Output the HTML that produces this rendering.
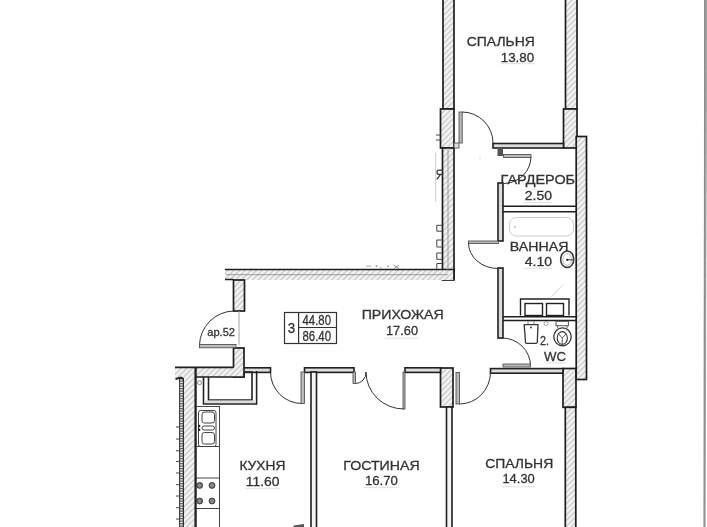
<!DOCTYPE html>
<html><head><meta charset="utf-8">
<style>
html,body{margin:0;padding:0;background:#fff;width:707px;height:527px;overflow:hidden}
svg{display:block;will-change:transform;filter:blur(0.3px)}
text{font-family:"Liberation Sans",sans-serif;fill:#333;stroke:#333;stroke-width:0.3px}
</style></head><body>
<svg width="707" height="527" viewBox="0 0 707 527">
<defs>
<pattern id="h" width="4" height="4" patternUnits="userSpaceOnUse" patternTransform="rotate(45)">
<rect width="4" height="4" fill="#f1f1f1"/>
<line x1="0" y1="0" x2="0" y2="4" stroke="#9c9c9c" stroke-width="1.1"/>
</pattern>
</defs>
<rect width="707" height="527" fill="#fff"/>
<!-- right edge line -->
<path d="M704.2 0 H707 V60 L705.6 527 H703.7 Z" fill="#a0a0a0"/><path d="M704.6 0 L704.1 527" stroke="#8a8a8a" stroke-width="1"/>

<g stroke="#1e1e1e" stroke-width="1.7" fill="url(#h)">
<!-- top bedroom walls -->
<rect x="443" y="-2" width="11" height="111"/>
<rect x="440.5" y="109" width="13.5" height="39"/>
<rect x="565.5" y="-2" width="11.5" height="111"/>
<rect x="563.5" y="109" width="13.5" height="39"/>
<!-- corridor left wall -->
<rect x="442.5" y="148" width="11.5" height="132"/>
<!-- horizontal wall -->
<rect x="225" y="269.5" width="229" height="10.5" stroke="none"/>
<path d="M225 269.5 H454 V280 M225 279.5 H233.5" fill="none"/>
<!-- stubs -->
<rect x="233.5" y="280" width="11" height="31"/>
<rect x="233.5" y="348" width="10.5" height="29"/>
<!-- kitchen top band + exterior kitchen wall -->
<path d="M175 367.5 H244 V377 H195.5 V532 H183 V378 H175 Z" stroke="none"/>
<path d="M175 367.3 H233.5 M244 372 V377 H195.5 M195.3 368 V532" fill="none"/>
<!-- piers -->
<rect x="440.5" y="368" width="12.5" height="39"/>
<rect x="563" y="368.5" width="13" height="38.8"/>
<!-- bedroom right wall -->
<rect x="565.3" y="407.3" width="10.5" height="125"/>
<!-- bath right wall -->
<rect x="576.2" y="136.5" width="10.3" height="243"/>
</g>
<!-- dotted line ext wall -->
<rect x="179.2" y="378" width="4.6" height="150" fill="#fff"/>
<line x1="179.7" y1="378" x2="179.7" y2="527" stroke="#222" stroke-width="1.1"/>
<line x1="183.3" y1="378" x2="183.3" y2="527" stroke="#222" stroke-width="1.3"/>
<line x1="181.5" y1="378" x2="181.5" y2="527" stroke="#555" stroke-width="2.6" stroke-dasharray="1.3 1.2"/>
<path d="M175.5 379 L181 377.5 L183 379" stroke="#222" stroke-width="2" fill="none"/>
<g stroke="#555" stroke-width="1.1">
<line x1="176" y1="427" x2="179" y2="427"/><line x1="176" y1="439" x2="179" y2="439"/>
<line x1="176" y1="450.7" x2="179" y2="450.7"/><line x1="176" y1="461.5" x2="179" y2="461.5"/>
<line x1="176" y1="473" x2="179" y2="473"/><line x1="176" y1="484.6" x2="179" y2="484.6"/>
<line x1="176" y1="496" x2="179" y2="496"/><line x1="176" y1="507.7" x2="179" y2="507.7"/>
<line x1="176" y1="519" x2="179" y2="519"/>
</g>
<g fill="#999"><rect x="366" y="265.5" width="5" height="1.2" fill="#bbb"/><circle cx="376.5" cy="266" r="0.9"/><circle cx="381" cy="267.5" r="0.7"/><circle cx="388" cy="266.3" r="0.9"/></g>
<path d="M393.5 265 L399 268.5 M399 265 L394 268.5" stroke="#888" stroke-width="0.9"/>
<!-- middle lines in walls -->
<g stroke="#888" stroke-width="0.8" fill="none">
<line x1="448" y1="148" x2="448" y2="270"/>
<line x1="226" y1="274.7" x2="448" y2="274.7"/>
</g>

<!-- thin walls -->
<g stroke="#1e1e1e" stroke-width="1.6" fill="#ddd">
<rect x="244" y="367.8" width="26.5" height="4.6"/>
<rect x="304.5" y="367.8" width="49.5" height="4.6"/>
<rect x="405" y="367.8" width="35.5" height="4.6"/>
<rect x="490.5" y="368.6" width="72.5" height="4.6"/>
<!-- partitions -->
<rect x="311" y="372" width="5.5" height="160" fill="#f4f4f4"/>
<rect x="446.5" y="407" width="5.5" height="125" fill="#f4f4f4"/>
<!-- wardrobe top partition -->
<rect x="493" y="143.5" width="70.5" height="4.5"/>
<!-- left partition wardrobe/bath/wc -->
<rect x="498" y="183" width="5" height="58"/>
<rect x="498" y="268" width="5" height="70"/>
<!-- wardrobe/bath partition -->
<path d="M503 206.2 H577 M503 211.8 H577" fill="none"/>
<!-- bath/wc partition -->
<path d="M503 316.7 H577 M503 320.5 H577" fill="none"/>
</g>
<!-- T hinge -->
<path d="M497.5 148 L503 148 L503 156 L497.5 156 Z" fill="#555"/>

<!-- shaft -->
<path d="M203.5 377 L203.5 404 L256.6 404 L256.6 371" fill="none" stroke="#222" stroke-width="1.6"/>
<path d="M208.5 377 L208.5 400 L252 400 L252 372 L244 372" fill="none" stroke="#222" stroke-width="1.6"/>
<rect x="204.5" y="400.5" width="51" height="2.5" fill="#ddd"/>
<circle cx="199.5" cy="382.7" r="2" fill="none" stroke="#666" stroke-width="0.8"/>

<!-- kitchen counter -->
<g stroke="#444" stroke-width="1" fill="none">
<line x1="219.5" y1="406" x2="219.5" y2="527"/>
<line x1="196" y1="406.5" x2="219.5" y2="406.5"/>
<line x1="196" y1="446.5" x2="219.5" y2="446.5"/>
<line x1="196" y1="478" x2="219.5" y2="478"/>
<line x1="196" y1="508.5" x2="219.5" y2="508.5"/>
<rect x="198.5" y="410.5" width="17.5" height="36" rx="2"/>
<rect x="202" y="412" width="12.5" height="11" rx="2.5"/>
<rect x="202" y="426" width="12.5" height="4" rx="2"/>
<rect x="202" y="432.5" width="12.5" height="11.5" rx="2.5"/>
</g>
<circle cx="199.2" cy="426" r="1.2" fill="#222"/><circle cx="199.2" cy="429.8" r="1.2" fill="#222"/>
<g fill="#6a6a6a" stroke="#333" stroke-width="0.8">
<circle cx="199.7" cy="485.4" r="3"/><circle cx="212" cy="485.4" r="3"/>
<circle cx="199.7" cy="501" r="3"/><circle cx="212" cy="501" r="3"/>
</g>
<path d="M197.7 485.4 h4 M199.7 483.4 v4 M210 485.4 h4 M212 483.4 v4 M197.7 501 h4 M199.7 499 v4 M210 501 h4 M212 499 v4" stroke="#aaa" stroke-width="0.7"/>
<line x1="196" y1="368" x2="196" y2="527" stroke="#222" stroke-width="1.4"/>

<!-- doors -->
<g fill="none" stroke="#333" stroke-width="1">
<!-- top bedroom door -->
<path d="M462 112 A31 31 0 0 1 493 143"/>
<!-- ar.52 door -->
<path d="M199.5 345 A35 35 0 0 1 233.5 311"/>
<!-- kitchen door -->
<path d="M270.5 372 A31.5 31.5 0 0 0 302 403.5"/>
<!-- double door -->
<path d="M355.5 383.5 A10.5 11 0 0 0 366 372"/>
<path d="M366 372 A38 37 0 0 0 404 409"/>
<!-- bedroom door -->
<path d="M459.5 404 A31 32 0 0 0 490.5 372"/>
<!-- wardrobe door -->
<path d="M531 157 A27.5 27 0 0 1 504 183.5"/>
<!-- bath door -->
<path d="M468.5 243 A29.5 25.5 0 0 0 498 268.5"/>
<!-- wc door -->
<path d="M502 338 A28.5 28 0 0 1 530.5 366"/>
</g>
<g fill="#bbb" stroke="#444" stroke-width="0.8">
<rect x="459" y="112" width="3.2" height="31"/>
<rect x="454" y="143" width="5" height="5" fill="#ddd"/>
<rect x="199.5" y="344.5" width="36.5" height="3.3"/>
<rect x="301" y="372" width="3.5" height="31.5"/>
<rect x="353" y="372" width="2.5" height="11.5"/>
<rect x="403" y="372" width="2" height="37"/>
<rect x="456" y="372.5" width="3.5" height="31.5"/>
<rect x="503.5" y="154.5" width="27.5" height="3"/>
<rect x="468.5" y="241" width="30" height="2.5"/>
<rect x="503" y="364" width="27.5" height="3"/>
</g>
<line x1="239" y1="311" x2="239" y2="345" stroke="#999" stroke-width="0.9"/>
<!-- window ticks -->
<g stroke="#444" stroke-width="1" fill="none">
<path d="M436 135 H440.5 M436 140 H440.5"/>
<path d="M442.5 225.3 H436.8 V231.2 H442.5"/>
<path d="M442.5 240 H436.8 V247 H442.5"/>
<path d="M442.5 253 H436.8 V259.3 H442.5"/>
<path d="M442.5 263.5 H436.8 V268.5"/>
</g>
<line x1="435.7" y1="153" x2="435.7" y2="202" stroke="#ccc" stroke-width="1"/>
<path d="M443 170.2 H439 C436.3 170.2 436.3 174.3 439 174.3 H443 M440.5 174.3 L436.8 179.3" fill="none" stroke="#333" stroke-width="1.2"/>

<!-- bathtub -->
<rect x="509.5" y="217.5" width="64" height="18.5" rx="7" fill="none" stroke="#ccc" stroke-width="1"/>
<circle cx="514.8" cy="227" r="1" fill="#bbb"/>
<!-- bathroom circle symbol -->
<ellipse cx="567.2" cy="259.3" rx="6.6" ry="8.2" fill="none" stroke="#333" stroke-width="1.5"/>
<ellipse cx="567.2" cy="259.5" rx="4.3" ry="5.8" fill="none" stroke="#aaa" stroke-width="0.8"/>
<path d="M567 259.8 H574" stroke="#444" stroke-width="1.1"/><circle cx="567.2" cy="259.8" r="1.1" fill="#222"/>
<line x1="552" y1="296.5" x2="563" y2="284.5" stroke="#ccc" stroke-width="0.9"/>
<!-- washer box -->
<g fill="none" stroke="#222" stroke-width="1.4">
<path d="M520.5 315.5 V299 H569 V315.5"/>
<rect x="525" y="303.5" width="17.5" height="12"/>
<rect x="546.5" y="303.5" width="17" height="12"/>
</g>
<!-- washbasin -->
<path d="M524.2 324.6 H538 L537.3 342.3 Q537.2 343.4 536 343.4 H526.7 Q525.6 343.4 525.5 342.3 Z" fill="none" stroke="#333" stroke-width="1.3"/>
<path d="M528 321.3 V324.5 M534 321.3 V324.5" stroke="#666" stroke-width="0.9"/><circle cx="531" cy="327.6" r="1" fill="#444"/>
<circle cx="546" cy="323.5" r="2" fill="none" stroke="#888" stroke-width="0.8"/>
<!-- toilet -->
<rect x="556" y="321.3" width="12.4" height="4.4" fill="none" stroke="#555" stroke-width="1"/>
<path d="M557.6 325.7 V328.3 M567 325.7 V328.3" stroke="#555" stroke-width="0.9"/>
<ellipse cx="562.5" cy="336.8" rx="8.7" ry="9" fill="none" stroke="#333" stroke-width="1.3"/>
<ellipse cx="562.3" cy="338" rx="5.1" ry="6.4" fill="none" stroke="#333" stroke-width="1.1"/>
<path d="M558.6 334 L562.2 338 L566 334 M562.2 338 V344" stroke="#444" stroke-width="0.9" fill="none"/>

<!-- info box -->
<g fill="none" stroke="#333" stroke-width="1.2">
<rect x="284.5" y="312.5" width="52" height="31"/>
<line x1="298.6" y1="312.5" x2="298.6" y2="343.5"/>
<line x1="298.6" y1="327.5" x2="336.5" y2="327.5"/>
</g>

<!-- bottom shape -->
<path d="M293 527 L294 525.5 L304 524 L304 527 Z" fill="#555"/>

<g stroke="#dcdcdc" stroke-width="0.9">
<line x1="500" y1="63.7" x2="535" y2="63.7"/>
<line x1="524" y1="202.6" x2="552" y2="202.6"/>
<line x1="524" y1="268.3" x2="552" y2="268.3"/>
<line x1="385" y1="338.2" x2="419" y2="338.2"/>
<line x1="545" y1="363" x2="566" y2="363"/>
<line x1="245" y1="488.3" x2="280" y2="488.3"/>
<line x1="364" y1="487.6" x2="399" y2="487.6"/>
<line x1="502" y1="486.8" x2="535" y2="486.8"/>
</g>
<circle cx="480" cy="158.5" r="0.8" fill="#ccc"/>
<!-- labels -->
<g font-size="13.6">
<text x="466.8" y="45.8" textLength="68" lengthAdjust="spacingAndGlyphs">СПАЛЬНЯ</text>
<text x="500.7" y="61.6" textLength="33.5" lengthAdjust="spacingAndGlyphs">13.80</text>
<text x="500.6" y="184.4" textLength="74.5" lengthAdjust="spacingAndGlyphs">ГАРДЕРОБ</text>
<text x="524.7" y="200.4" textLength="27.3" lengthAdjust="spacingAndGlyphs">2.50</text>
<text x="509.8" y="250.7" textLength="58.7" lengthAdjust="spacingAndGlyphs">ВАННАЯ</text>
<text x="524.7" y="266.2" textLength="27.3" lengthAdjust="spacingAndGlyphs">4.10</text>
<text x="361.7" y="319.2" textLength="82" lengthAdjust="spacingAndGlyphs">ПРИХОЖАЯ</text>
<text x="386" y="334.7" textLength="32" lengthAdjust="spacingAndGlyphs">17.60</text>
<text x="287.8" y="333.2" font-size="14.4" textLength="7.4" lengthAdjust="spacingAndGlyphs">3</text>
<text x="302.5" y="325" font-size="14.4" textLength="28.5" lengthAdjust="spacingAndGlyphs">44.80</text>
<text x="302.5" y="340.9" font-size="14.4" textLength="28.5" lengthAdjust="spacingAndGlyphs">86.40</text>
<text x="207.3" y="335.8" font-size="11" textLength="27.7" lengthAdjust="spacingAndGlyphs">ар.52</text>
<text x="540" y="345.4" textLength="9" lengthAdjust="spacingAndGlyphs">2.</text>
<text x="544" y="360.9" textLength="22" lengthAdjust="spacingAndGlyphs">WC</text>
<text x="239.4" y="469.7" textLength="46" lengthAdjust="spacingAndGlyphs">КУХНЯ</text>
<text x="245.8" y="486.0" textLength="33.7" lengthAdjust="spacingAndGlyphs">11.60</text>
<text x="343.3" y="469.5" textLength="76.3" lengthAdjust="spacingAndGlyphs">ГОСТИНАЯ</text>
<text x="364.9" y="485.4" textLength="33.1" lengthAdjust="spacingAndGlyphs">16.70</text>
<text x="485.2" y="467.6" textLength="68" lengthAdjust="spacingAndGlyphs">СПАЛЬНЯ</text>
<text x="502.4" y="483.4" textLength="32.4" lengthAdjust="spacingAndGlyphs">14.30</text>
</g>
</svg>
</body></html>
